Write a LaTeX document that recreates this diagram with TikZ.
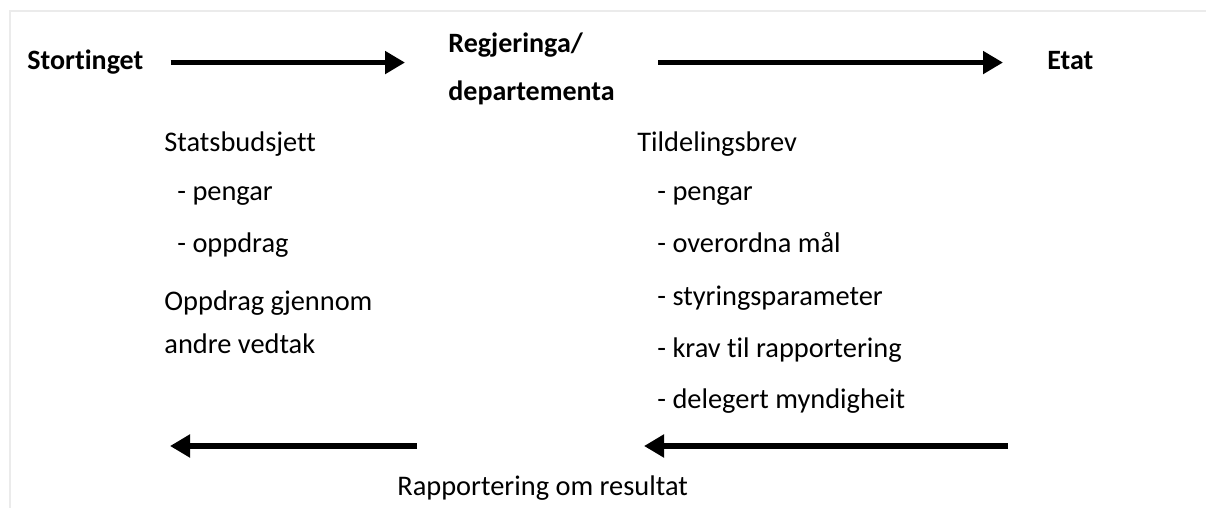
\documentclass[tikz,border=0pt]{standalone}
\usepackage{fontspec}
\setmainfont{Carlito}[Ligatures=NoCommon]
\usetikzlibrary{arrows.meta}

\tikzset{
	actor/.style={inner sep=0pt, anchor=base west, font=\fontsize{14}{24.5}\selectfont\bfseries},
	item/.style={inner sep=0pt, anchor=base west, font=\fontsize{14.2}{21.5}\selectfont},
	flow/.style={line width=2.75pt, -{Triangle[length=10pt, width=11pt]}}
}

\begin{document}
\begin{tikzpicture}[
	x=0.5pt, y=-0.5pt
	]
	\useasboundingbox (0, 0) rectangle (1206, 508);
	\draw [black!8, line width=1pt] (10, 508) -- (10, 11) -- (1206, 11);

	% actors (base of a two-line node is its last line)
	\node (storting) at (27, 70) [actor] {Stortinget};
	\node (regjering) at (448, 101) [actor, align=left] {Regjeringa/\\departementa};
	\node (etat) at (1047, 70) [actor] {Etat};

	\draw [flow, shorten <=13.5pt, shorten >=21.5pt] (storting) -- (storting -| regjering.west);
	\draw [flow, shorten <=21.5pt, shorten >=22pt] (storting -| regjering.east) -- (storting -| etat.west);

	% budget side
	\node (budsjett) at (164, 152) [item] {Statsbudsjett};
	\node (bpengar) at (177, 201) [item] {- pengar};
	\node (boppdrag) at (177, 252) [item] {- oppdrag};
	\node (vedtak) at (164, 353) [item, align=left] {Oppdrag gjennom\\andre vedtak};

	% letter of allocation
	\node (brev) at (637, 152) [item] {Tildelingsbrev};
	\node (tpengar) at (657, 201) [item] {- pengar};
	\node (maal) at (657, 252) [item] {- overordna mål};
	\node (param) at (657, 305) [item] {- styringsparameter};
	\node (krav) at (657, 357) [item] {- krav til rapportering};
	\node (mynd) at (657, 408) [item] {- delegert myndigheit};

	% reporting back
	\coordinate (rstart) at (417, 446);
	\coordinate (rend) at (170, 446);
	\coordinate (estart) at (1008, 446);
	\coordinate (eend) at (644, 446);
	\draw [flow] (rstart) -- (rend);
	\draw [flow] (estart) -- (eend);
	\node (rapport) at (397, 495) [item] {Rapportering om resultat};
\end{tikzpicture}
\end{document}
